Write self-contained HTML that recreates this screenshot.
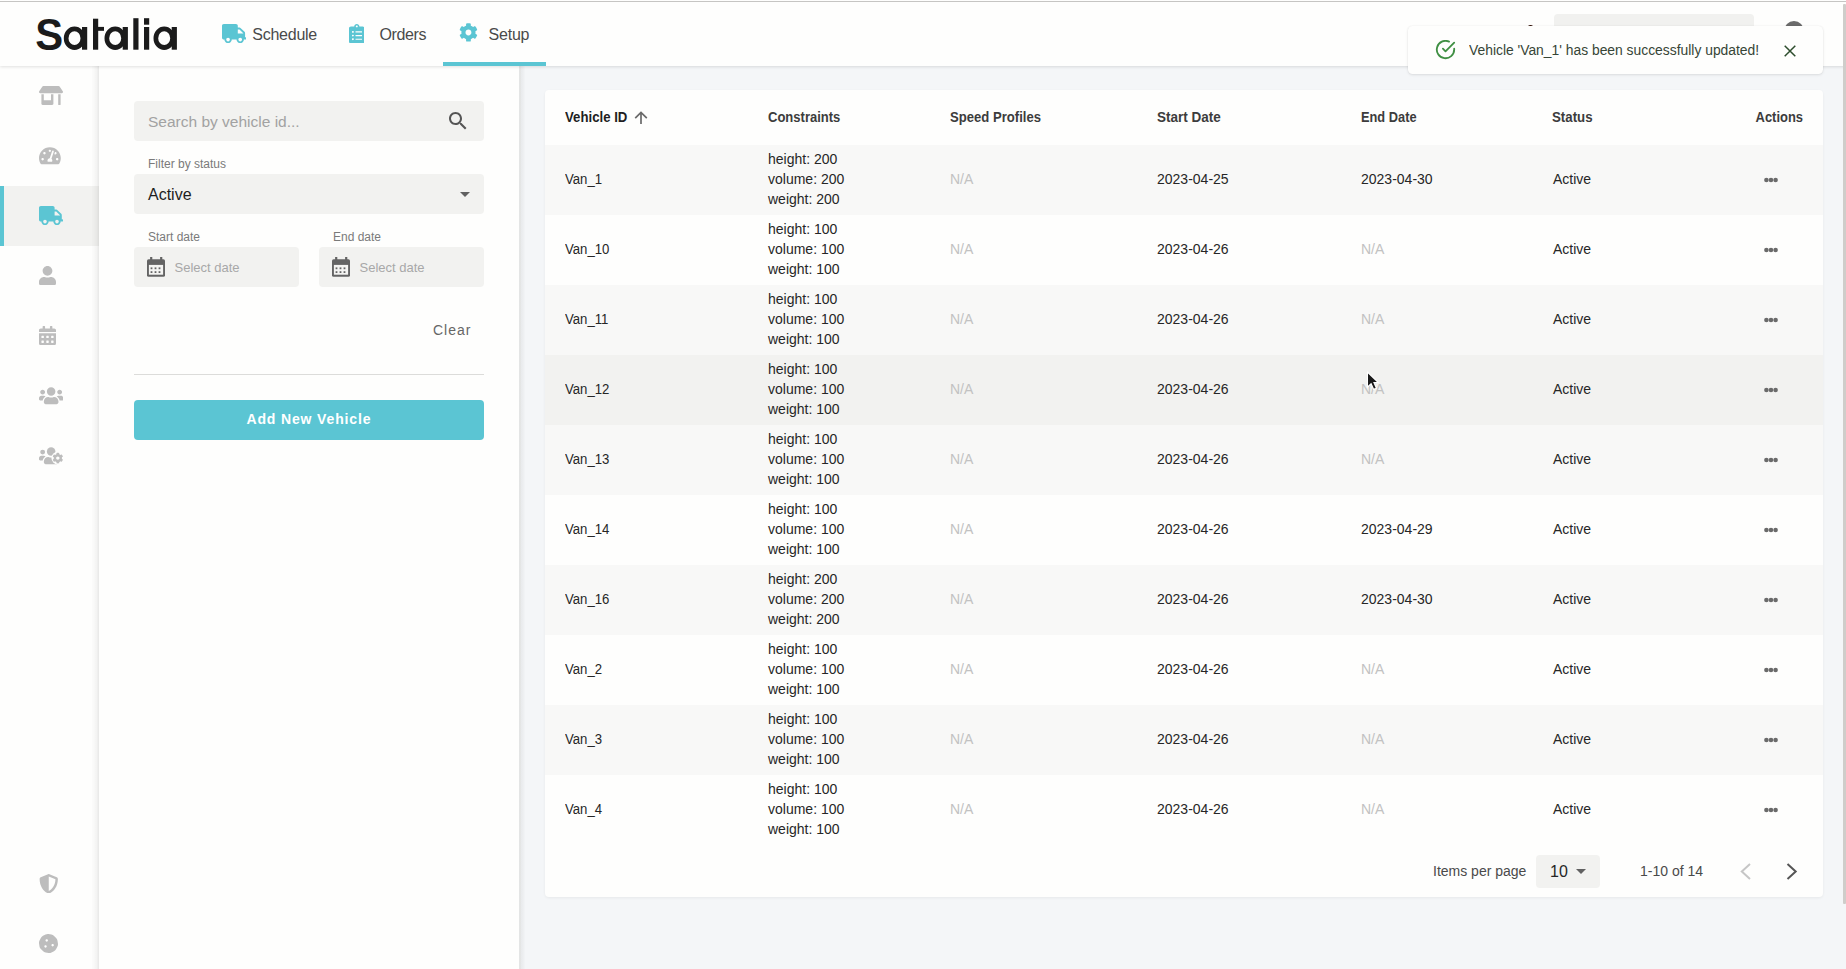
<!DOCTYPE html>
<html><head><meta charset="utf-8">
<style>
*{box-sizing:border-box;margin:0;padding:0}
html,body{width:1846px;height:969px;overflow:hidden}
body{font-family:"Liberation Sans",sans-serif;background:#f4f6f8;position:relative;color:#212121}
.abs{position:absolute}
#topline{position:absolute;left:0;top:1px;width:1846px;height:1px;background:#c6c5c3;z-index:50}
#header{position:absolute;left:0;top:0;width:1846px;height:66px;background:#fefefd;box-shadow:0 1px 3px rgba(0,0,0,0.12);z-index:20}
#sidebar{position:absolute;left:0;top:66px;width:99px;height:903px;background:#fefefd;z-index:8}
#filters{position:absolute;left:99px;top:66px;width:420px;height:903px;background:#fefefd;z-index:9}
#card{position:absolute;left:545px;top:90px;width:1278px;height:807px;background:#fefefd;border-radius:4px;box-shadow:0 1px 3px rgba(0,0,0,0.06)}
.nav{position:absolute;top:0;height:66px;font-size:15.5px;color:#4a4a4a;line-height:66px;white-space:nowrap}
.txt{position:absolute;white-space:nowrap;line-height:20px}

#shl{position:absolute;left:92px;top:66px;width:7px;height:903px;z-index:9;background:linear-gradient(to right,rgba(0,0,0,0.012) 0,rgba(0,0,0,0.02) 2px,rgba(0,0,0,0.03) 3px,rgba(0,0,0,0.045) 5px,rgba(0,0,0,0.075) 6px,rgba(0,0,0,0.085) 7px)}
#shr{position:absolute;left:519px;top:66px;width:6px;height:903px;z-index:9;background:linear-gradient(to right,rgba(50,45,20,0.085) 0,rgba(50,45,20,0.08) 2px,rgba(0,0,0,0.045) 2.5px,rgba(0,0,0,0.035) 3.5px,rgba(0,0,0,0.02) 5px,rgba(0,0,0,0.005) 6px)}

</style></head>
<body>
<div id="topline"></div>
<div id="header"><svg class="abs" style="left:0;top:0" width="200" height="66" viewBox="0 0 200 66"><g fill="#1b1b1b"><text x="35.2" y="49.9" font-family="Liberation Sans" font-weight="bold" font-size="44.5" transform="translate(36.5 0) scale(0.94 1) translate(-36.5 0)">S</text><path fill-rule="evenodd" d="M63.8 38.2a10.7 11.7 0 1 0 21.4 0a10.7 11.7 0 1 0 -21.4 0zM68.5 38.2a6.0 6.9 0 1 0 12.0 0a6.0 6.9 0 1 0 -12.0 0z"/><rect x="82.0" y="27" width="5.2" height="22.7"/><rect x="93" y="18.7" width="5.2" height="31"/><rect x="93" y="26.9" width="11" height="3.9"/><path fill-rule="evenodd" d="M104.5 38.2a10.7 11.7 0 1 0 21.4 0a10.7 11.7 0 1 0 -21.4 0zM109.2 38.2a6.0 6.9 0 1 0 12.0 0a6.0 6.9 0 1 0 -12.0 0z"/><rect x="122.7" y="27" width="5.2" height="22.7"/><rect x="133.3" y="18.2" width="5.2" height="31.5"/><rect x="144" y="18.2" width="5.2" height="6.5"/><rect x="144" y="27" width="5.2" height="22.7"/><path fill-rule="evenodd" d="M153.5 38.2a10.7 11.7 0 1 0 21.4 0a10.7 11.7 0 1 0 -21.4 0zM158.2 38.2a6.0 6.9 0 1 0 12.0 0a6.0 6.9 0 1 0 -12.0 0z"/><rect x="171.7" y="27" width="5.2" height="22.7"/></g></svg><svg class="abs" style="left:221.5px;top:23.8px" width="24.3" height="19.2" viewBox="0 0 640 512" preserveAspectRatio="none"><path fill="#5bc5d3" d="M624 352h-16V243.9c0-12.7-5.1-24.9-14.1-33.9L494 110.1c-9-9-21.2-14.1-33.9-14.1H416V48c0-26.5-21.5-48-48-48H48C21.5 0 0 21.5 0 48v320c0 26.5 21.5 48 48 48h16c0 53 43 96 96 96s96-43 96-96h128c0 53 43 96 96 96s96-43 96-96h48c8.8 0 16-7.2 16-16v-32c0-8.8-7.2-16-16-16zM160 464c-26.5 0-48-21.5-48-48s21.5-48 48-48 48 21.5 48 48-21.5 48-48 48zm320 0c-26.5 0-48-21.5-48-48s21.5-48 48-48 48 21.5 48 48-21.5 48-48 48zm80-208H416V144h44.1l99.9 99.9V256z"/></svg><div class="nav" style="left:252.3px;top:1.5px;font-size:16px;letter-spacing:-0.25px">Schedule</div><svg class="abs" style="left:348.6px;top:23.8px" width="15.6" height="19.5" viewBox="0 0 384 512" preserveAspectRatio="none"><path fill="#5bc5d3" d="M336 64h-80c0-35.3-28.7-64-64-64s-64 28.7-64 64H48C21.5 64 0 85.5 0 112v352c0 26.5 21.5 48 48 48h288c26.5 0 48-21.5 48-48V112c0-26.5-21.5-48-48-48zM96 424c-13.3 0-24-10.7-24-24s10.7-24 24-24 24 10.7 24 24-10.7 24-24 24zm0-96c-13.3 0-24-10.7-24-24s10.7-24 24-24 24 10.7 24 24-10.7 24-24 24zm0-96c-13.3 0-24-10.7-24-24s10.7-24 24-24 24 10.7 24 24-10.7 24-24 24zm96-192c13.3 0 24 10.7 24 24s-10.7 24-24 24-24-10.7-24-24 10.7-24 24-24zm128 368c0 4.4-3.6 8-8 8H168c-4.4 0-8-3.6-8-8v-16c0-4.4 3.6-8 8-8h144c4.4 0 8 3.6 8 8v16zm0-96c0 4.4-3.6 8-8 8H168c-4.4 0-8-3.6-8-8v-16c0-4.4 3.6-8 8-8h144c4.4 0 8 3.6 8 8v16zm0-96c0 4.4-3.6 8-8 8H168c-4.4 0-8-3.6-8-8v-16c0-4.4 3.6-8 8-8h144c4.4 0 8 3.6 8 8v16z"/></svg><div class="nav" style="left:379.5px;top:1.5px;font-size:16px;letter-spacing:-0.4px">Orders</div><svg class="abs" style="left:459.4px;top:23px" width="18.9" height="18.9" viewBox="0 0 512 512" preserveAspectRatio="none"><path fill="#5bc5d3" d="M487.4 315.7l-42.6-24.6c4.3-23.2 4.3-47 0-70.2l42.6-24.6c4.9-2.8 7.1-8.6 5.5-14-11.1-35.6-30-67.8-54.7-94.6-3.8-4.1-10-5.1-14.8-2.3L380.8 110c-17.9-15.4-38.5-27.3-60.8-35.1V25.8c0-5.6-3.9-10.5-9.4-11.7-36.7-8.2-74.3-7.8-109.2 0-5.5 1.2-9.4 6.1-9.4 11.700V75c-22.2 7.9-42.8 19.8-60.8 35.1L88.7 85.5c-4.9-2.8-11-1.900-14.8 2.3-24.7 26.7-43.6 58.9-54.7 94.6-1.7 5.4.6 11.2 5.5 14L67.3 221c-4.3 23.2-4.3 47 0 70.2l-42.6 24.6c-4.9 2.8-7.1 8.6-5.5 14 11.1 35.6 30 67.8 54.7 94.6 3.8 4.1 10 5.1 14.8 2.3l42.6-24.6c17.9 15.4 38.5 27.3 60.8 35.1v49.2c0 5.6 3.9 10.5 9.4 11.7 36.7 8.2 74.3 7.800 109.2 0 5.5-1.2 9.4-6.1 9.4-11.7v-49.2c22.2-7.9 42.8-19.8 60.8-35.1l42.6 24.6c4.9 2.8 11 1.9 14.8-2.3 24.7-26.7 43.6-58.9 54.7-94.6 1.5-5.5-.7-11.3-5.6-14.1zM256 336c-44.1 0-80-35.9-80-80s35.9-80 80-80 80 35.9 80 80-35.9 80-80 80z"/></svg><div class="nav" style="left:488.5px;top:1.5px;font-size:16px;letter-spacing:-0.2px">Setup</div><div class="abs" style="left:443px;top:62px;width:103px;height:4px;background:#5bc5d3"></div><div class="abs" style="left:1554px;top:14px;width:200px;height:40px;background:#f1f1ef;border-radius:4px"></div><div class="abs" style="left:1528px;top:24.5px;width:4.5px;height:4.5px;border-radius:2.25px;background:#3a1a10"></div><div class="abs" style="left:1784px;top:21px;width:20px;height:20px;border-radius:10px;background:#6b6b6b"></div></div>
<div id="sidebar"><div class="abs" style="left:0;top:120px;width:99px;height:60px;background:#f2f2f0"></div><div class="abs" style="left:0;top:120px;width:4px;height:60px;background:#5bc5d3"></div><svg class="abs" style="left:39.1px;top:20px" width="24" height="19" viewBox="0 0 640 512" preserveAspectRatio="none"><path fill="#bdbdbd" d="M320 384H128V224H64v256c0 17.7 14.3 32 32 32h256c17.7 0 32-14.3 32-32V224h-64v160zm314.6-241.8l-85.3-128c-6-8.9-16-14.2-26.7-14.2H117.4c-10.7 0-20.7 5.3-26.6 14.2l-85.3 128c-14.2 21.3 1 49.8 26.6 49.8H608c25.5 0 40.7-28.5 26.6-49.8zM512 496c0 8.8 7.2 16 16 16h32c8.8 0 16-7.2 16-16V224h-64v272z"/></svg><svg class="abs" style="left:38.8px;top:80.19999999999999px" width="21.8" height="19.4" viewBox="0 0 576 512" preserveAspectRatio="none"><path fill="#bdbdbd" d="M288 32C128.94 32 0 160.94 0 320c0 52.8 14.25 102.26 39.06 144.8 5.61 9.62 16.3 15.2 27.44 15.2h443c11.14 0 21.83-5.58 27.440-15.2C561.75 422.26 576 372.8 576 320c0-159.06-128.94-288-288-288zm0 64c14.71 0 26.58 10.13 30.32 23.65-1.11 2.26-2.64 4.23-3.45 6.67l-9.22 27.67c-5.13 3.49-10.97 6.01-17.64 6.01-17.67 0-32-14.33-32-32S270.33 96 288 96zM96 384c-17.67 0-32-14.33-32-32s14.33-32 32-32 32 14.33 32 32-14.33 32-32 32zm48-160c-17.67 0-32-14.33-32-32s14.33-32 32-32 32 14.33 32 32-14.33 32-32 32zm246.77-72.41l-61.33 184C343.13 347.33 352 364.54 352 384c0 11.72-3.38 22.55-8.88 32H232.88c-5.5-9.45-8.88-20.28-8.88-32 0-33.94 26.5-61.43 59.9-63.59l61.34-184.01c4.17-12.56 17.730-19.45 30.36-15.17 12.57 4.19 19.35 17.79 15.17 30.36zm14.66 57.2l15.52-46.55c3.47-1.29 7.13-2.23 11.05-2.23 17.67 0 32 14.33 32 32s-14.33 32-32 32c-11.38-.01-20.89-6.27-26.57-15.22zM480 384c-17.67 0-32-14.33-32-32s14.33-32 32-32 32 14.33 32 32-14.33 32-32 32z"/></svg><svg class="abs" style="left:39.2px;top:139.9px" width="24" height="19.2" viewBox="0 0 640 512" preserveAspectRatio="none"><path fill="#5bc5d3" d="M624 352h-16V243.9c0-12.7-5.1-24.9-14.1-33.9L494 110.1c-9-9-21.2-14.1-33.9-14.1H416V48c0-26.5-21.5-48-48-48H48C21.5 0 0 21.5 0 48v320c0 26.5 21.5 48 48 48h16c0 53 43 96 96 96s96-43 96-96h128c0 53 43 96 96 96s96-43 96-96h48c8.8 0 16-7.2 16-16v-32c0-8.8-7.2-16-16-16zM160 464c-26.5 0-48-21.5-48-48s21.5-48 48-48 48 21.5 48 48-21.5 48-48 48zm320 0c-26.5 0-48-21.5-48-48s21.5-48 48-48 48 21.5 48 48-21.5 48-48 48zm80-208H416V144h44.1l99.9 99.9V256z"/></svg><svg class="abs" style="left:38.8px;top:199.89999999999998px" width="17" height="19.4" viewBox="0 0 448 512" preserveAspectRatio="none"><path fill="#bdbdbd" d="M224 256c70.7 0 128-57.3 128-128S294.7 0 224 0 96 57.3 96 128s57.3 128 128 128zm89.6 32h-16.7c-22.2 10.2-46.9 16-72.9 16s-50.6-5.8-72.9-16h-16.7C60.2 288 0 348.2 0 422.4V464c0 26.5 21.5 48 48 48h352c26.5 0 48-21.5 48-48v-41.6c0-74.2-60.2-134.4-134.4-134.4z"/></svg><svg class="abs" style="left:38.8px;top:259.8px" width="17" height="19.4" viewBox="0 0 448 512" preserveAspectRatio="none"><path fill="#bdbdbd" d="M0 464c0 26.5 21.5 48 48 48h352c26.5 0 48-21.5 48-48V192H0v272zm320-196c0-6.6 5.4-12 12-12h40c6.6 0 12 5.4 12 12v40c0 6.6-5.4 12-12 12h-40c-6.6 0-12-5.4-12-12v-40zm0 128c0-6.6 5.4-12 12-12h40c6.6 0 12 5.4 12 12v40c0 6.6-5.4 12-12 12h-40c-6.6 0-12-5.4-12-12v-40zM192 268c0-6.6 5.4-12 12-12h40c6.6 0 12 5.4 12 12v40c0 6.6-5.4 12-12 12h-40c-6.6 0-12-5.4-12-12v-40zm0 128c0-6.6 5.4-12 12-12h40c6.6 0 12 5.4 12 12v40c0 6.6-5.4 12-12 12h-40c-6.6 0-12-5.4-12-12v-40zM64 268c0-6.6 5.4-12 12-12h40c6.6 0 12 5.4 12 12v40c0 6.6-5.4 12-12 12H76c-6.6 0-12-5.4-12-12v-40zm0 128c0-6.6 5.4-12 12-12h40c6.6 0 12 5.4 12 12v40c0 6.6-5.4 12-12 12H76c-6.6 0-12-5.4-12-12v-40zM400 64h-48V16c0-8.8-7.2-16-16-16h-32c-8.8 0-16 7.2-16 16v48H160V16c0-8.8-7.2-16-16-16h-32c-8.8 0-16 7.2-16 16v48H48C21.5 64 0 85.5 0 112v48h448v-48c0-26.5-21.5-48-48-48z"/></svg><svg class="abs" style="left:38.8px;top:319.59999999999997px" width="24.3" height="19.4" viewBox="0 0 640 512" preserveAspectRatio="none"><path fill="#bdbdbd" d="M96 224c35.3 0 64-28.7 64-64s-28.7-64-64-64-64 28.7-64 64 28.7 64 64 64zm448 0c35.3 0 64-28.7 64-64s-28.7-64-64-64-64 28.7-64 64 28.7 64 64 64zm32 32h-64c-17.6 0-33.5 7.1-45.1 18.6 40.3 22.1 68.9 62 75.1 109.4h66c17.7 0 32-14.300 32-32v-32c0-35.3-28.7-64-64-64zm-256 0c61.9 0 112-50.1 112-112S381.9 32 320 32 208 82.1 208 144s50.1 112 112 112zm76.8 32h-8.3c-20.8 10-43.9 16-68.5 16s-47.6-6-68.5-16h-8.3C179.6 288 128 339.6 128 403.2V432c0 26.5 21.5 48 48 48h288c26.5 0 48-21.5 48-48v-28.8c0-63.6-51.6-115.2-115.2-115.2zm-223.7-13.4C161.5 263.1 145.6 256 128 256H64c-35.3 0-64 28.7-64 64v32c0 17.7 14.3 32 32 32h65.9c6.3-47.4 34.9-87.3 75.2-109.4z"/></svg><svg class="abs" style="left:38.8px;top:379.7px" width="24.3" height="19.4" viewBox="0 0 640 512" preserveAspectRatio="none"><g fill="#bdbdbd"><circle cx="96" cy="160" r="64"/><path d="M173.1 274.6C161.5 263.1 145.6 256 128 256H64c-35.3 0-64 28.7-64 64v32c0 17.7 14.3 32 32 32h65.9c6.3-47.4 34.9-87.3 75.2-109.4z"/><circle cx="320" cy="144" r="112"/><path d="M396.8 288h-8.3c-20.8 10-43.9 16-68.5 16s-47.6-6-68.5-16h-8.3C179.6 288 128 339.6 128 403.2V432c0 26.5 21.5 48 48 48h288c26.5 0 48-21.5 48-48v-28.8c0-63.6-51.6-115.2-115.2-115.2z"/><circle cx="496" cy="320" r="168" fill="#fefefd"/><g transform="translate(352 176) scale(0.5625)"><path d="M487.4 315.7l-42.6-24.6c4.3-23.2 4.3-47 0-70.2l42.6-24.6c4.9-2.8 7.1-8.6 5.5-14-11.1-35.6-30-67.8-54.7-94.6-3.8-4.1-10-5.1-14.8-2.3L380.8 110c-17.9-15.4-38.5-27.3-60.8-35.1V25.8c0-5.6-3.9-10.5-9.4-11.7-36.7-8.2-74.3-7.8-109.2 0-5.5 1.2-9.4 6.1-9.4 11.700V75c-22.2 7.9-42.8 19.8-60.8 35.1L88.7 85.5c-4.9-2.8-11-1.900-14.8 2.3-24.7 26.7-43.6 58.9-54.7 94.6-1.7 5.4.6 11.2 5.5 14L67.3 221c-4.3 23.2-4.3 47 0 70.2l-42.6 24.6c-4.9 2.8-7.1 8.6-5.5 14 11.1 35.6 30 67.8 54.7 94.6 3.8 4.1 10 5.1 14.8 2.3l42.6-24.6c17.9 15.4 38.5 27.3 60.8 35.1v49.2c0 5.6 3.9 10.5 9.4 11.7 36.7 8.2 74.3 7.800 109.2 0 5.5-1.2 9.4-6.1 9.4-11.7v-49.2c22.2-7.9 42.8-19.8 60.8-35.1l42.6 24.6c4.9 2.8 11 1.9 14.8-2.3 24.7-26.7 43.6-58.9 54.7-94.6 1.5-5.5-.7-11.3-5.6-14.1zM256 336c-44.1 0-80-35.9-80-80s35.9-80 80-80 80 35.9 80 80-35.9 80-80 80z"/></g></g></svg><svg class="abs" style="left:38.5px;top:807.9px" width="19.5" height="19.5" viewBox="0 0 512 512" preserveAspectRatio="none"><path fill="#bdbdbd" d="M466.5 83.7l-192-80a48.15 48.15 0 0 0-36.9 0l-192 80C27.7 91.1 16 108.6 16 128c0 198.5 114.5 335.7 221.5 380.3 11.8 4.9 25.1 4.9 36.9 0C360.1 472.6 496 349.3 496 128c0-19.4-11.7-36.9-29.5-44.3zM256.1 446.3l-.1-381 175.9 73.3c-3.3 151.4-82.1 261.1-175.8 307.7z"/></svg><svg class="abs" style="left:39px;top:868px" width="19" height="19" viewBox="0 0 512 512" preserveAspectRatio="none"><path fill="#bdbdbd" d="M510.37 254.79l-12.08-76.26a132.493 132.493 0 0 0-37.16-72.950l-54.76-54.75c-19.73-19.72-45.18-32.7-72.71-37.05l-76.7-12.15c-27.51-4.36-55.69.11-80.52 12.76L107.32 49.6a132.25 132.25 0 0 0-57.79 57.8l-35.1 68.88a132.602 132.602 0 0 0-12.82 80.94l12.08 76.27a132.493 132.493 0 0 0 37.16 72.95l54.76 54.75a132.087 132.087 0 0 0 72.71 37.05l76.71 12.15c27.51 4.36 55.69-.11 80.52-12.76l69.12-35.21a132.302 132.302 0 0 0 57.79-57.8l35.1-68.88c12.56-24.64 17.01-52.58 12.82-80.940zM176 368c-17.670 0-32-14.33-32-32s14.33-32 32-32 32 14.33 32 32-14.33 32-32 32zm32-160c-17.67 0-32-14.33-32-32s14.33-32 32-32 32 14.33 32 32-14.33 32-32 32zm160 128c-17.67 0-32-14.33-32-32s14.33-32 32-32 32 14.33 32 32-14.33 32-32 32z"/></svg></div>
<div id="shl"></div><div id="shr"></div><div id="filters"><div class="abs" style="left:35px;top:35px;width:350px;height:40px;background:#f2f2f0;border-radius:4px"></div><div class="txt" style="left:49px;top:45.81px;font-size:15.5px;line-height:19.38px;color:#a2a2a2">Search by vehicle id...</div><svg class="abs" style="left:347px;top:43px" width="24" height="24" viewBox="0 0 24 24"><path fill="#555" d="M15.5 14h-.79l-.28-.27C15.41 12.59 16 11.11 16 9.5 16 5.91 13.09 3 9.5 3S3 5.91 3 9.5 5.91 16 9.5 16c1.61 0 3.090-.59 4.23-1.57l.27.28v.79l5 4.99L20.49 19l-4.99-5zm-6 0C7.01 14 5 11.99 5 9.5S7.01 5 9.5 5 14 7.010 14 9.5 11.99 14 9.5 14z"/></svg><div class="txt" style="left:49px;top:90.50px;font-size:12px;line-height:15.00px;color:#7a7a7a">Filter by status</div><div class="abs" style="left:35px;top:108px;width:350px;height:40px;background:#f2f2f0;border-radius:4px"></div><div class="txt" style="left:49px;top:118.50px;font-size:16px;line-height:20.00px;color:#1e1e1e">Active</div><svg class="abs" style="left:354px;top:116px" width="24" height="24" viewBox="0 0 24 24"><path fill="#616161" d="M7 10l5 5 5-5z"/></svg><div class="txt" style="left:49px;top:163.50px;font-size:12px;line-height:15.00px;color:#7a7a7a">Start date</div><div class="txt" style="left:234px;top:163.50px;font-size:12px;line-height:15.00px;color:#7a7a7a">End date</div><div class="abs" style="left:35px;top:181px;width:165px;height:40px;background:#f2f2f0;border-radius:4px"></div><svg class="abs" style="left:48px;top:191px" width="18" height="20" viewBox="0 0 18 20"><rect x="0" y="2.3" width="18" height="17.5" rx="1.6" fill="#646464"/><rect x="3.1" y="0" width="2.2" height="3" fill="#646464"/><rect x="13.1" y="0" width="2.2" height="3" fill="#646464"/><rect x="1.9" y="7.9" width="14.2" height="9.8" fill="#f4f4f2"/><rect x="3.6" y="10.4" width="1.8" height="1.8" fill="#646464"/><rect x="3.6" y="14.2" width="1.8" height="1.8" fill="#646464"/><rect x="7.6" y="10.4" width="1.8" height="1.8" fill="#646464"/><rect x="7.6" y="14.2" width="1.8" height="1.8" fill="#646464"/><rect x="11.6" y="10.4" width="1.8" height="1.8" fill="#646464"/><rect x="11.6" y="14.2" width="1.8" height="1.8" fill="#646464"/></svg><div class="txt" style="left:75.5px;top:194.38px;font-size:13px;line-height:16.25px;color:#a8a8a8">Select date</div><div class="abs" style="left:220px;top:181px;width:165px;height:40px;background:#f2f2f0;border-radius:4px"></div><svg class="abs" style="left:233px;top:191px" width="18" height="20" viewBox="0 0 18 20"><rect x="0" y="2.3" width="18" height="17.5" rx="1.6" fill="#646464"/><rect x="3.1" y="0" width="2.2" height="3" fill="#646464"/><rect x="13.1" y="0" width="2.2" height="3" fill="#646464"/><rect x="1.9" y="7.9" width="14.2" height="9.8" fill="#f4f4f2"/><rect x="3.6" y="10.4" width="1.8" height="1.8" fill="#646464"/><rect x="3.6" y="14.2" width="1.8" height="1.8" fill="#646464"/><rect x="7.6" y="10.4" width="1.8" height="1.8" fill="#646464"/><rect x="7.6" y="14.2" width="1.8" height="1.8" fill="#646464"/><rect x="11.6" y="10.4" width="1.8" height="1.8" fill="#646464"/><rect x="11.6" y="14.2" width="1.8" height="1.8" fill="#646464"/></svg><div class="txt" style="left:260.5px;top:194.38px;font-size:13px;line-height:16.25px;color:#a8a8a8">Select date</div><div class="txt" style="left:334px;top:256.25px;font-size:14px;line-height:17.50px;color:#666666;letter-spacing:1px">Clear</div><div class="abs" style="left:35px;top:308px;width:350px;height:1px;background:#dcdcda"></div><div class="abs" style="left:35px;top:334px;width:350px;height:40px;background:#5bc5d3;border-radius:4px"></div><div class="txt" style="left:147.5px;top:345.25px;font-size:14px;line-height:17.50px;color:#ffffff;font-weight:bold;letter-spacing:0.85px">Add New Vehicle</div></div>
<div id="card"><div class="txt" style="left:20px;top:18.12px;font-size:15px;line-height:18.75px;color:#1f1f1f;font-weight:bold;transform:scaleX(0.88);transform-origin:left center">Vehicle ID</div><svg class="abs" style="left:88px;top:20px" width="16" height="16"><path d="M8 2.6V14M2.2 8.2L8 2.4L13.8 8.2" fill="none" stroke="#6a6a6a" stroke-width="1.7"/></svg><div class="txt" style="left:223px;top:18.12px;font-size:15px;line-height:18.75px;color:#3c3c3c;font-weight:bold;transform:scaleX(0.868);transform-origin:left center">Constraints</div><div class="txt" style="left:404.5px;top:18.12px;font-size:15px;line-height:18.75px;color:#3c3c3c;font-weight:bold;transform:scaleX(0.873);transform-origin:left center">Speed Profiles</div><div class="txt" style="left:611.5px;top:18.12px;font-size:15px;line-height:18.75px;color:#3c3c3c;font-weight:bold;transform:scaleX(0.9);transform-origin:left center">Start Date</div><div class="txt" style="left:815.5px;top:18.12px;font-size:15px;line-height:18.75px;color:#3c3c3c;font-weight:bold;transform:scaleX(0.854);transform-origin:left center">End Date</div><div class="txt" style="left:1006.5px;top:18.12px;font-size:15px;line-height:18.75px;color:#3c3c3c;font-weight:bold;transform:scaleX(0.885);transform-origin:left center">Status</div><div class="txt" style="right:20px;top:18.12px;font-size:15px;line-height:18.75px;color:#3c3c3c;font-weight:bold;transform:scaleX(0.862);transform-origin:right center">Actions</div><div class="abs" style="left:0;top:55px;width:1278px;height:70px;background:#f8f8f7"></div><div class="txt" style="left:20px;top:81.25px;font-size:14px;line-height:17.50px;color:#262626;transform:scaleX(0.94);transform-origin:left center">Van_1</div><div class="txt" style="left:223px;top:61.25px;font-size:14px;line-height:17.50px;color:#262626">height: 200</div><div class="txt" style="left:223px;top:81.25px;font-size:14px;line-height:17.50px;color:#262626">volume: 200</div><div class="txt" style="left:223px;top:101.25px;font-size:14px;line-height:17.50px;color:#262626">weight: 200</div><div class="txt" style="left:405px;top:81.25px;font-size:14px;line-height:17.50px;color:#c2c2c2">N/A</div><div class="txt" style="left:612px;top:81.25px;font-size:14px;line-height:17.50px;color:#262626">2023-04-25</div><div class="txt" style="left:816px;top:81.25px;font-size:14px;line-height:17.50px;color:#262626">2023-04-30</div><div class="txt" style="left:1008px;top:81.25px;font-size:14px;line-height:17.50px;color:#262626">Active</div><svg class="abs" style="left:1219px;top:87px" width="14" height="6" viewBox="0 0 14 6"><circle cx="2.4" cy="3" r="2.3" fill="#6a6a6a"/><circle cx="7" cy="3" r="2.3" fill="#6a6a6a"/><circle cx="11.6" cy="3" r="2.3" fill="#6a6a6a"/></svg><div class="txt" style="left:20px;top:151.25px;font-size:14px;line-height:17.50px;color:#262626;transform:scaleX(0.94);transform-origin:left center">Van_10</div><div class="txt" style="left:223px;top:131.25px;font-size:14px;line-height:17.50px;color:#262626">height: 100</div><div class="txt" style="left:223px;top:151.25px;font-size:14px;line-height:17.50px;color:#262626">volume: 100</div><div class="txt" style="left:223px;top:171.25px;font-size:14px;line-height:17.50px;color:#262626">weight: 100</div><div class="txt" style="left:405px;top:151.25px;font-size:14px;line-height:17.50px;color:#c2c2c2">N/A</div><div class="txt" style="left:612px;top:151.25px;font-size:14px;line-height:17.50px;color:#262626">2023-04-26</div><div class="txt" style="left:816px;top:151.25px;font-size:14px;line-height:17.50px;color:#c2c2c2">N/A</div><div class="txt" style="left:1008px;top:151.25px;font-size:14px;line-height:17.50px;color:#262626">Active</div><svg class="abs" style="left:1219px;top:157px" width="14" height="6" viewBox="0 0 14 6"><circle cx="2.4" cy="3" r="2.3" fill="#6a6a6a"/><circle cx="7" cy="3" r="2.3" fill="#6a6a6a"/><circle cx="11.6" cy="3" r="2.3" fill="#6a6a6a"/></svg><div class="abs" style="left:0;top:195px;width:1278px;height:70px;background:#f8f8f7"></div><div class="txt" style="left:20px;top:221.25px;font-size:14px;line-height:17.50px;color:#262626;transform:scaleX(0.94);transform-origin:left center">Van_11</div><div class="txt" style="left:223px;top:201.25px;font-size:14px;line-height:17.50px;color:#262626">height: 100</div><div class="txt" style="left:223px;top:221.25px;font-size:14px;line-height:17.50px;color:#262626">volume: 100</div><div class="txt" style="left:223px;top:241.25px;font-size:14px;line-height:17.50px;color:#262626">weight: 100</div><div class="txt" style="left:405px;top:221.25px;font-size:14px;line-height:17.50px;color:#c2c2c2">N/A</div><div class="txt" style="left:612px;top:221.25px;font-size:14px;line-height:17.50px;color:#262626">2023-04-26</div><div class="txt" style="left:816px;top:221.25px;font-size:14px;line-height:17.50px;color:#c2c2c2">N/A</div><div class="txt" style="left:1008px;top:221.25px;font-size:14px;line-height:17.50px;color:#262626">Active</div><svg class="abs" style="left:1219px;top:227px" width="14" height="6" viewBox="0 0 14 6"><circle cx="2.4" cy="3" r="2.3" fill="#6a6a6a"/><circle cx="7" cy="3" r="2.3" fill="#6a6a6a"/><circle cx="11.6" cy="3" r="2.3" fill="#6a6a6a"/></svg><div class="abs" style="left:0;top:265px;width:1278px;height:70px;background:#f2f2f0"></div><div class="txt" style="left:20px;top:291.25px;font-size:14px;line-height:17.50px;color:#262626;transform:scaleX(0.94);transform-origin:left center">Van_12</div><div class="txt" style="left:223px;top:271.25px;font-size:14px;line-height:17.50px;color:#262626">height: 100</div><div class="txt" style="left:223px;top:291.25px;font-size:14px;line-height:17.50px;color:#262626">volume: 100</div><div class="txt" style="left:223px;top:311.25px;font-size:14px;line-height:17.50px;color:#262626">weight: 100</div><div class="txt" style="left:405px;top:291.25px;font-size:14px;line-height:17.50px;color:#c2c2c2">N/A</div><div class="txt" style="left:612px;top:291.25px;font-size:14px;line-height:17.50px;color:#262626">2023-04-26</div><div class="txt" style="left:816px;top:291.25px;font-size:14px;line-height:17.50px;color:#c2c2c2">N/A</div><div class="txt" style="left:1008px;top:291.25px;font-size:14px;line-height:17.50px;color:#262626">Active</div><svg class="abs" style="left:1219px;top:297px" width="14" height="6" viewBox="0 0 14 6"><circle cx="2.4" cy="3" r="2.3" fill="#6a6a6a"/><circle cx="7" cy="3" r="2.3" fill="#6a6a6a"/><circle cx="11.6" cy="3" r="2.3" fill="#6a6a6a"/></svg><div class="abs" style="left:0;top:335px;width:1278px;height:70px;background:#f8f8f7"></div><div class="txt" style="left:20px;top:361.25px;font-size:14px;line-height:17.50px;color:#262626;transform:scaleX(0.94);transform-origin:left center">Van_13</div><div class="txt" style="left:223px;top:341.25px;font-size:14px;line-height:17.50px;color:#262626">height: 100</div><div class="txt" style="left:223px;top:361.25px;font-size:14px;line-height:17.50px;color:#262626">volume: 100</div><div class="txt" style="left:223px;top:381.25px;font-size:14px;line-height:17.50px;color:#262626">weight: 100</div><div class="txt" style="left:405px;top:361.25px;font-size:14px;line-height:17.50px;color:#c2c2c2">N/A</div><div class="txt" style="left:612px;top:361.25px;font-size:14px;line-height:17.50px;color:#262626">2023-04-26</div><div class="txt" style="left:816px;top:361.25px;font-size:14px;line-height:17.50px;color:#c2c2c2">N/A</div><div class="txt" style="left:1008px;top:361.25px;font-size:14px;line-height:17.50px;color:#262626">Active</div><svg class="abs" style="left:1219px;top:367px" width="14" height="6" viewBox="0 0 14 6"><circle cx="2.4" cy="3" r="2.3" fill="#6a6a6a"/><circle cx="7" cy="3" r="2.3" fill="#6a6a6a"/><circle cx="11.6" cy="3" r="2.3" fill="#6a6a6a"/></svg><div class="txt" style="left:20px;top:431.25px;font-size:14px;line-height:17.50px;color:#262626;transform:scaleX(0.94);transform-origin:left center">Van_14</div><div class="txt" style="left:223px;top:411.25px;font-size:14px;line-height:17.50px;color:#262626">height: 100</div><div class="txt" style="left:223px;top:431.25px;font-size:14px;line-height:17.50px;color:#262626">volume: 100</div><div class="txt" style="left:223px;top:451.25px;font-size:14px;line-height:17.50px;color:#262626">weight: 100</div><div class="txt" style="left:405px;top:431.25px;font-size:14px;line-height:17.50px;color:#c2c2c2">N/A</div><div class="txt" style="left:612px;top:431.25px;font-size:14px;line-height:17.50px;color:#262626">2023-04-26</div><div class="txt" style="left:816px;top:431.25px;font-size:14px;line-height:17.50px;color:#262626">2023-04-29</div><div class="txt" style="left:1008px;top:431.25px;font-size:14px;line-height:17.50px;color:#262626">Active</div><svg class="abs" style="left:1219px;top:437px" width="14" height="6" viewBox="0 0 14 6"><circle cx="2.4" cy="3" r="2.3" fill="#6a6a6a"/><circle cx="7" cy="3" r="2.3" fill="#6a6a6a"/><circle cx="11.6" cy="3" r="2.3" fill="#6a6a6a"/></svg><div class="abs" style="left:0;top:475px;width:1278px;height:70px;background:#f8f8f7"></div><div class="txt" style="left:20px;top:501.25px;font-size:14px;line-height:17.50px;color:#262626;transform:scaleX(0.94);transform-origin:left center">Van_16</div><div class="txt" style="left:223px;top:481.25px;font-size:14px;line-height:17.50px;color:#262626">height: 200</div><div class="txt" style="left:223px;top:501.25px;font-size:14px;line-height:17.50px;color:#262626">volume: 200</div><div class="txt" style="left:223px;top:521.25px;font-size:14px;line-height:17.50px;color:#262626">weight: 200</div><div class="txt" style="left:405px;top:501.25px;font-size:14px;line-height:17.50px;color:#c2c2c2">N/A</div><div class="txt" style="left:612px;top:501.25px;font-size:14px;line-height:17.50px;color:#262626">2023-04-26</div><div class="txt" style="left:816px;top:501.25px;font-size:14px;line-height:17.50px;color:#262626">2023-04-30</div><div class="txt" style="left:1008px;top:501.25px;font-size:14px;line-height:17.50px;color:#262626">Active</div><svg class="abs" style="left:1219px;top:507px" width="14" height="6" viewBox="0 0 14 6"><circle cx="2.4" cy="3" r="2.3" fill="#6a6a6a"/><circle cx="7" cy="3" r="2.3" fill="#6a6a6a"/><circle cx="11.6" cy="3" r="2.3" fill="#6a6a6a"/></svg><div class="txt" style="left:20px;top:571.25px;font-size:14px;line-height:17.50px;color:#262626;transform:scaleX(0.94);transform-origin:left center">Van_2</div><div class="txt" style="left:223px;top:551.25px;font-size:14px;line-height:17.50px;color:#262626">height: 100</div><div class="txt" style="left:223px;top:571.25px;font-size:14px;line-height:17.50px;color:#262626">volume: 100</div><div class="txt" style="left:223px;top:591.25px;font-size:14px;line-height:17.50px;color:#262626">weight: 100</div><div class="txt" style="left:405px;top:571.25px;font-size:14px;line-height:17.50px;color:#c2c2c2">N/A</div><div class="txt" style="left:612px;top:571.25px;font-size:14px;line-height:17.50px;color:#262626">2023-04-26</div><div class="txt" style="left:816px;top:571.25px;font-size:14px;line-height:17.50px;color:#c2c2c2">N/A</div><div class="txt" style="left:1008px;top:571.25px;font-size:14px;line-height:17.50px;color:#262626">Active</div><svg class="abs" style="left:1219px;top:577px" width="14" height="6" viewBox="0 0 14 6"><circle cx="2.4" cy="3" r="2.3" fill="#6a6a6a"/><circle cx="7" cy="3" r="2.3" fill="#6a6a6a"/><circle cx="11.6" cy="3" r="2.3" fill="#6a6a6a"/></svg><div class="abs" style="left:0;top:615px;width:1278px;height:70px;background:#f8f8f7"></div><div class="txt" style="left:20px;top:641.25px;font-size:14px;line-height:17.50px;color:#262626;transform:scaleX(0.94);transform-origin:left center">Van_3</div><div class="txt" style="left:223px;top:621.25px;font-size:14px;line-height:17.50px;color:#262626">height: 100</div><div class="txt" style="left:223px;top:641.25px;font-size:14px;line-height:17.50px;color:#262626">volume: 100</div><div class="txt" style="left:223px;top:661.25px;font-size:14px;line-height:17.50px;color:#262626">weight: 100</div><div class="txt" style="left:405px;top:641.25px;font-size:14px;line-height:17.50px;color:#c2c2c2">N/A</div><div class="txt" style="left:612px;top:641.25px;font-size:14px;line-height:17.50px;color:#262626">2023-04-26</div><div class="txt" style="left:816px;top:641.25px;font-size:14px;line-height:17.50px;color:#c2c2c2">N/A</div><div class="txt" style="left:1008px;top:641.25px;font-size:14px;line-height:17.50px;color:#262626">Active</div><svg class="abs" style="left:1219px;top:647px" width="14" height="6" viewBox="0 0 14 6"><circle cx="2.4" cy="3" r="2.3" fill="#6a6a6a"/><circle cx="7" cy="3" r="2.3" fill="#6a6a6a"/><circle cx="11.6" cy="3" r="2.3" fill="#6a6a6a"/></svg><div class="txt" style="left:20px;top:711.25px;font-size:14px;line-height:17.50px;color:#262626;transform:scaleX(0.94);transform-origin:left center">Van_4</div><div class="txt" style="left:223px;top:691.25px;font-size:14px;line-height:17.50px;color:#262626">height: 100</div><div class="txt" style="left:223px;top:711.25px;font-size:14px;line-height:17.50px;color:#262626">volume: 100</div><div class="txt" style="left:223px;top:731.25px;font-size:14px;line-height:17.50px;color:#262626">weight: 100</div><div class="txt" style="left:405px;top:711.25px;font-size:14px;line-height:17.50px;color:#c2c2c2">N/A</div><div class="txt" style="left:612px;top:711.25px;font-size:14px;line-height:17.50px;color:#262626">2023-04-26</div><div class="txt" style="left:816px;top:711.25px;font-size:14px;line-height:17.50px;color:#c2c2c2">N/A</div><div class="txt" style="left:1008px;top:711.25px;font-size:14px;line-height:17.50px;color:#262626">Active</div><svg class="abs" style="left:1219px;top:717px" width="14" height="6" viewBox="0 0 14 6"><circle cx="2.4" cy="3" r="2.3" fill="#6a6a6a"/><circle cx="7" cy="3" r="2.3" fill="#6a6a6a"/><circle cx="11.6" cy="3" r="2.3" fill="#6a6a6a"/></svg><div class="txt" style="left:888px;top:772.75px;font-size:14px;line-height:17.50px;color:#4a4a4a">Items per page</div><div class="abs" style="left:991px;top:765px;width:64px;height:33px;background:#f2f2f0;border-radius:4px"></div><div class="txt" style="left:1005px;top:771.50px;font-size:16px;line-height:20.00px;color:#262626">10</div><svg class="abs" style="left:1024px;top:769px" width="24" height="24" viewBox="0 0 24 24"><path fill="#616161" d="M7 10l5 5 5-5z"/></svg><div class="txt" style="left:1095px;top:772.75px;font-size:14px;line-height:17.50px;color:#4a4a4a">1-10 of 14</div><svg class="abs" style="left:1191px;top:770px" width="20" height="23"><path d="M14 4L5.8 11.5L14 19" fill="none" stroke="#c6c6c6" stroke-width="2"/></svg><svg class="abs" style="left:1237px;top:770px" width="20" height="23"><path d="M5.5 4L13.7 11.5L5.5 19" fill="none" stroke="#555555" stroke-width="2"/></svg></div>
<div class="abs" style="left:1408px;top:26px;width:415px;height:48px;background:#fefefd;border-radius:4.5px;box-shadow:0 1px 3px rgba(0,0,0,0.10),0 0 1.5px rgba(0,0,0,0.07);z-index:40"></div><div class="abs" style="left:0;top:0;z-index:41"><svg class="abs" style="left:1434.6px;top:39.8px" width="21" height="20" viewBox="0 0 24 23"><path d="M22 10.08V11a10 10 0 1 1-5.93-9.14" fill="none" stroke="#3f8f43" stroke-width="2.1" stroke-linecap="round"/><path d="M22 3 12 13.01 9 10.01" fill="none" stroke="#3f8f43" stroke-width="2.1" stroke-linecap="round" stroke-linejoin="round"/></svg><div class="txt" style="left:1469px;top:41.75px;font-size:14px;line-height:17.50px;color:#364536;transform:scaleX(0.99);transform-origin:left center">Vehicle 'Van_1' has been successfully updated!</div><svg class="abs" style="left:1784px;top:45px" width="12" height="12" viewBox="0 0 12 12"><path d="M0.7 0.7L11.3 11.3M11.3 0.7L0.7 11.3" stroke="#2d4d2d" stroke-width="1.5"/></svg></div>
<svg class="abs" style="left:1366px;top:371px;z-index:70" width="14" height="20"><path d="M1 0V17.2L5 13.5L7.3 19L11 17.6L8.6 12.1H13.3Z" fill="#ffffff"/><path d="M2 2.4V14.7L5.3 11.7L7.9 17.6L9.7 16.9L7.1 11H10.9Z" fill="#1a1a1a"/></svg>
<div class="abs" style="left:1843px;top:4px;width:3px;height:900px;background:#cfcdca;border-radius:1px;z-index:60"></div>
</body></html>
